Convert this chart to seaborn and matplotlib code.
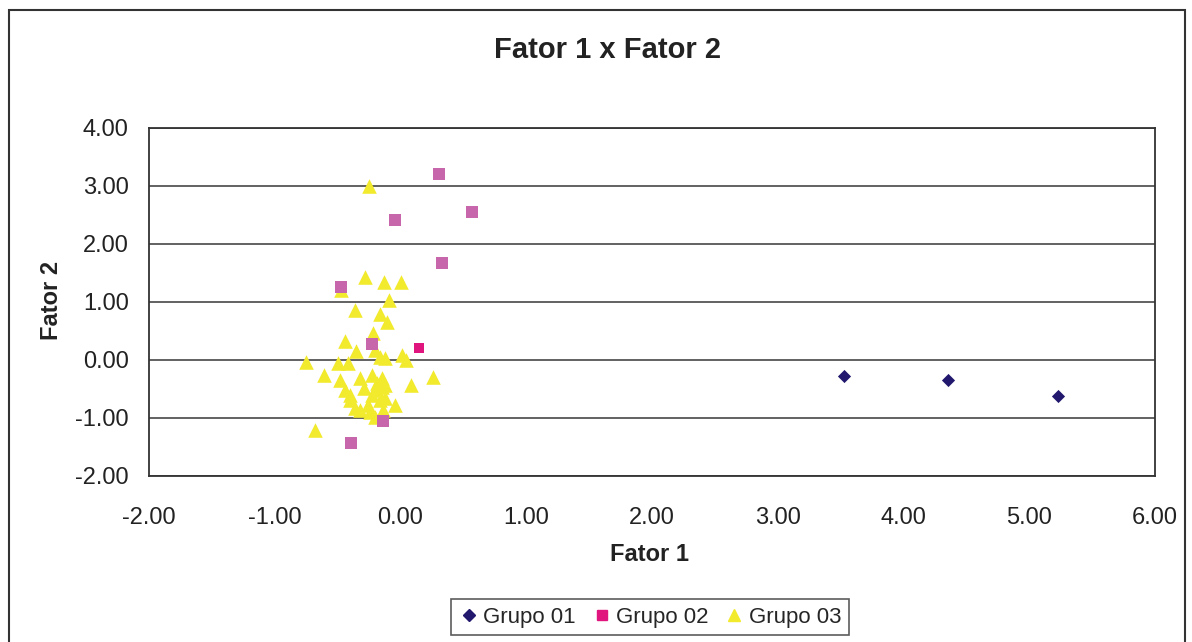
import pandas as pd
import seaborn as sns
import matplotlib.pyplot as plt
from matplotlib.lines import Line2D
from matplotlib.patches import Rectangle

# Grupo 01 (losangos)
g1_x = [3.53, 4.35, 5.23]
g1_y = [-0.28, -0.34, -0.62]

# Grupo 02 (quadrados); destaque = ponto em magenta
g2_x = [0.31, 0.57, -0.04, 0.33, -0.47, -0.23, 0.15, -0.14, -0.39]
g2_y = [3.21, 2.55, 2.41, 1.67, 1.26, 0.28, 0.21, -1.05, -1.43]
g2_destaque = [False, False, False, False, False, False, True, False, False]

# Grupo 03 (triangulos)
g3_x = [-0.25, -0.47, -0.28, -0.13, 0.00, -0.36, -0.09, -0.11, -0.16, -0.22,
        -0.44, -0.35, -0.75, -0.61, -0.50, -0.42, -0.20, -0.16, -0.12, 0.01,
        0.04, -0.48, -0.44, -0.32, -0.23, -0.15, -0.12, -0.40, -0.36, -0.32,
        -0.26, -0.23, -0.19, -0.16, -0.14, -0.12, -0.24, -0.20, -0.19, -0.04,
        0.08, 0.26, -0.68, -0.40, -0.29, -0.15]
g3_y = [3.00, 1.21, 1.43, 1.34, 1.34, 0.86, 1.03, 0.66, 0.79, 0.47,
        0.33, 0.16, -0.03, -0.26, -0.05, -0.05, 0.17, 0.05, 0.03, 0.09,
        0.00, -0.34, -0.52, -0.31, -0.26, -0.31, -0.43, -0.69, -0.83, -0.86,
        -0.78, -0.60, -0.52, -0.69, -0.86, -0.66, -0.90, -0.98, -0.40, -0.78,
        -0.43, -0.29, -1.21, -0.60, -0.48, -0.47]

cor_g1 = "#22196E"
cor_g2 = "#E0167E"
cor_g2_claro = "#C766AA"
cor_g3 = "#F2EA2C"

df3 = pd.DataFrame({"x": g3_x, "y": g3_y})
df1 = pd.DataFrame({"x": g1_x, "y": g1_y})
df2 = pd.DataFrame({"x": g2_x, "y": g2_y, "destaque": g2_destaque})

sns.set_theme(style="white")
plt.rcParams["font.family"] = ["Liberation Sans", "DejaVu Sans"]

fig = plt.figure(figsize=(11.92, 6.42), dpi=100)
ax = fig.add_axes([149 / 1192, 1 - 476 / 642, (1155 - 149) / 1192, (476 - 128) / 642])

sns.scatterplot(data=df3, x="x", y="y", marker="^", color=cor_g3, s=110,
                linewidth=0, ax=ax, zorder=3)
sns.scatterplot(data=df2[~df2["destaque"]], x="x", y="y", marker="s",
                color=cor_g2_claro, s=70, linewidth=0, ax=ax, zorder=4)
sns.scatterplot(data=df2[df2["destaque"]], x="x", y="y", marker="s",
                color=cor_g2, s=60, linewidth=0, ax=ax, zorder=4)
sns.scatterplot(data=df1, x="x", y="y", marker="D", color=cor_g1, s=45,
                linewidth=0, ax=ax, zorder=4)

ax.set_xlim(-2, 6)
ax.set_ylim(-2, 4)
ax.set_xticks(range(-2, 7))
ax.set_yticks(range(-2, 5))
ax.set_xticklabels([f"{v:.2f}" for v in range(-2, 7)])
ax.set_yticklabels([f"{v:.2f}" for v in range(-2, 5)])
ax.tick_params(axis="both", direction="out", length=6.5, width=1.2,
               color="#333333", labelsize=17, labelcolor="#222222")
ax.tick_params(axis="y", pad=8)
ax.tick_params(axis="x", pad=16)
ax.yaxis.grid(True, color="#555555", linewidth=1.3)
ax.set_axisbelow(True)
for sp in ax.spines.values():
    sp.set_color("#333333")
    sp.set_linewidth(1.3)

ax.set_xlabel("Fator 1", fontsize=17, fontweight="bold", color="#222222")
ax.set_ylabel("Fator 2", fontsize=17, fontweight="bold", color="#222222")
ax.xaxis.set_label_coords((650 - 149) / 1006, (476 - 543) / 348)
ax.yaxis.set_label_coords((63 - 149) / 1006, (476 - 300) / 348)
fig.text(608 / 1192, 1 - 50 / 642, "Fator 1 x Fator 2", ha="center", va="center",
         fontsize=21, fontweight="bold", color="#222222")

# moldura externa do grafico
fig.patches.append(Rectangle((9 / 1192, -0.1), (1185 - 9) / 1192, 1 - 10 / 642 + 0.1,
                             transform=fig.transFigure, fill=False,
                             edgecolor="#333333", linewidth=1.5))

handles = [
    Line2D([], [], marker="D", color=cor_g1, linestyle="", markersize=6.5),
    Line2D([], [], marker="s", color=cor_g2, linestyle="", markersize=6.5),
    Line2D([], [], marker="^", color=cor_g3, linestyle="", markersize=9),
]
leg = fig.legend(handles, ["Grupo 01", "Grupo 02", "Grupo 03"], loc="center",
                 bbox_to_anchor=(650 / 1192, 1 - 617 / 642), ncol=3, fontsize=16,
                 frameon=True, fancybox=False, edgecolor="#333333",
                 handletextpad=0.2, columnspacing=0.7, handlelength=0.9,
                 borderpad=0.35, borderaxespad=0)
leg.get_frame().set_linewidth(1.2)

fig.savefig("out.png", dpi=100)
